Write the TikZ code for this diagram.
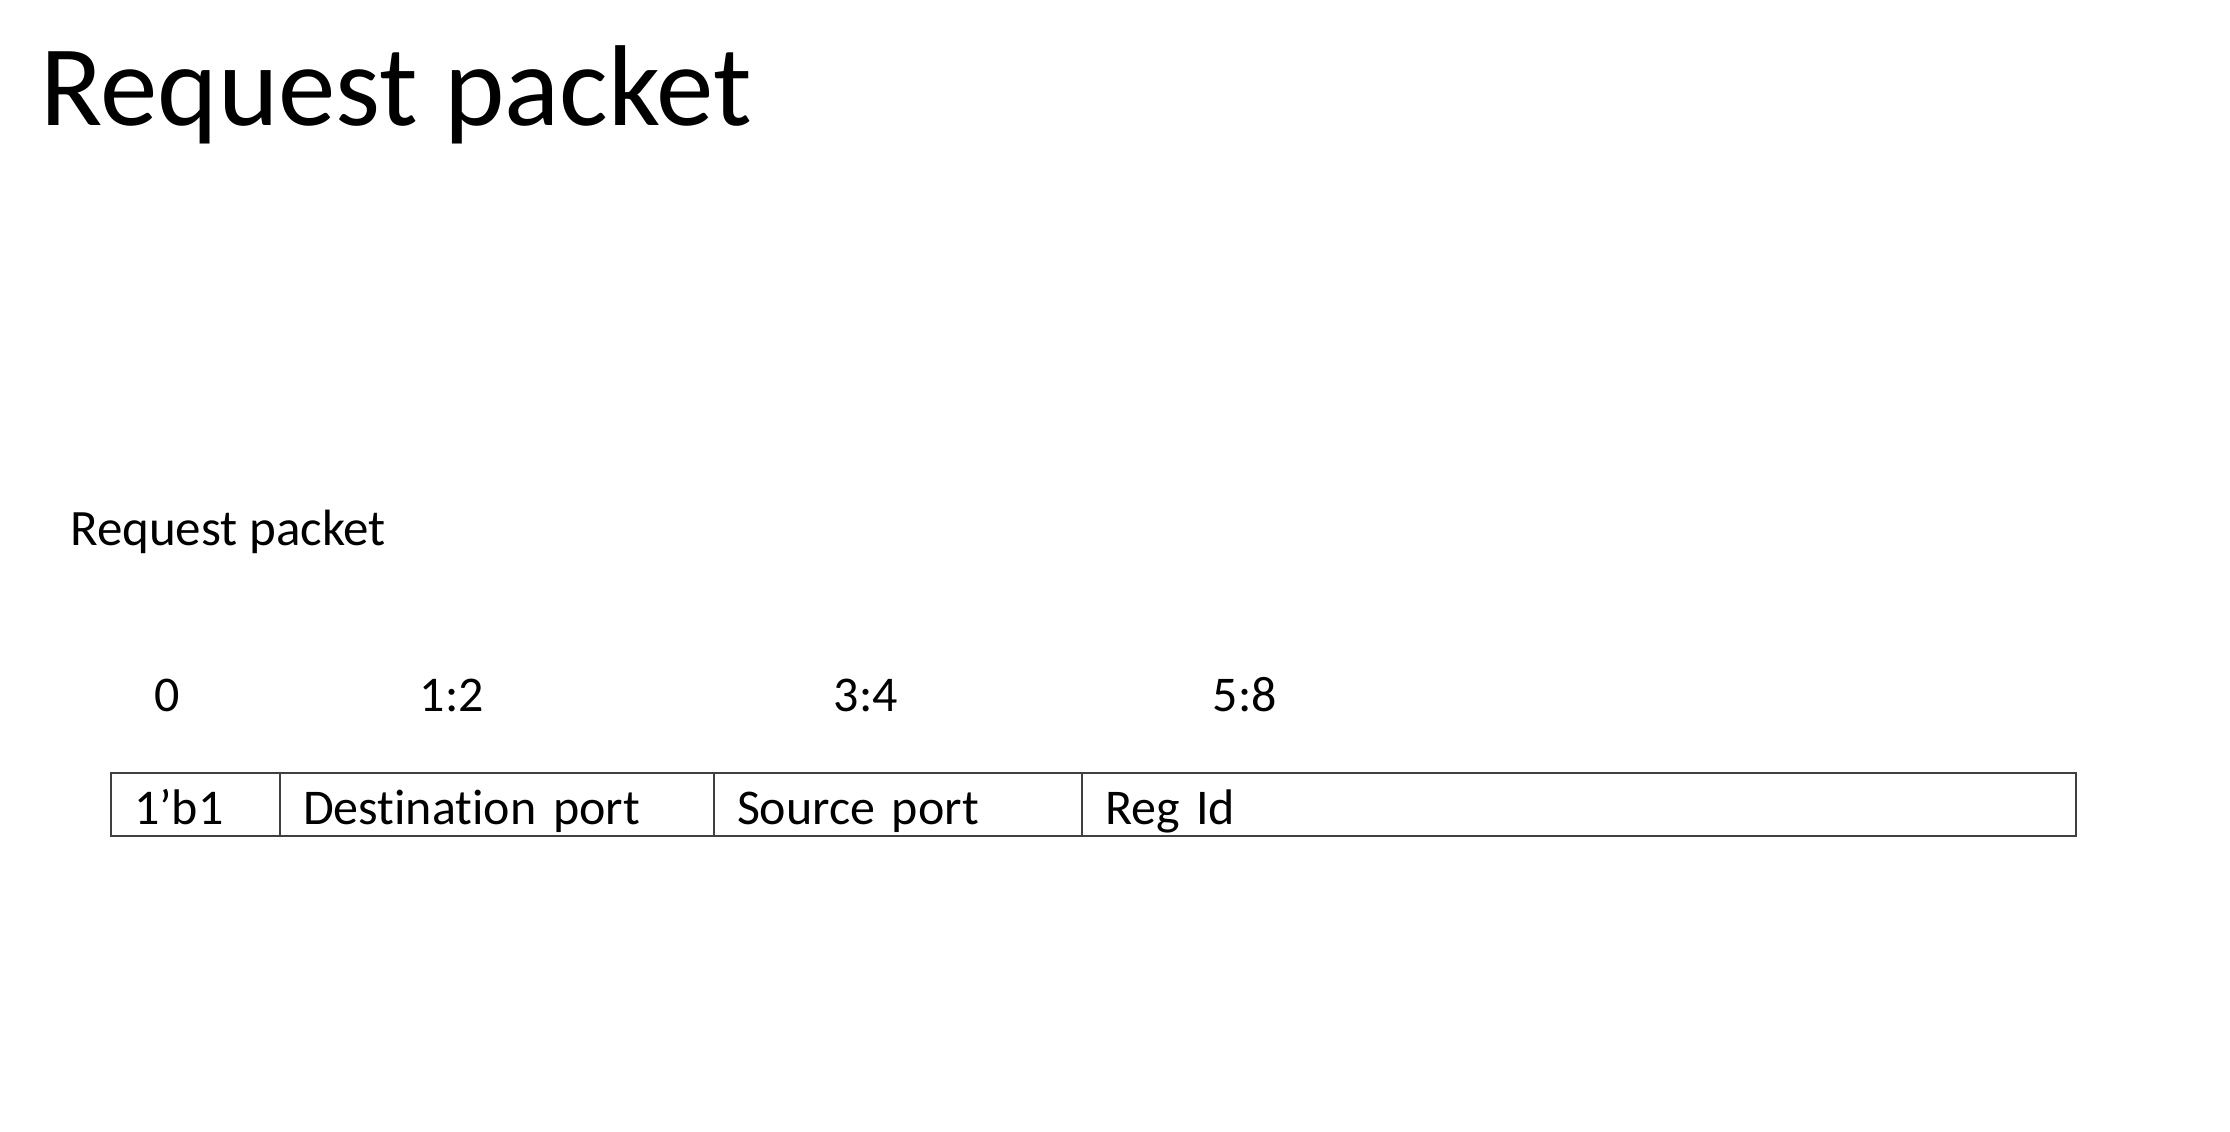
\documentclass[tikz,border=0pt]{standalone}
\usepackage{fontspec}
\setmainfont{Carlito}[Ligatures=NoCommon]
\usetikzlibrary{positioning}

\begin{document}
\begin{tikzpicture}[%
    x=1pt, y=-1pt,              % one unit is one pixel of the slide
    node distance=0pt,          % packet fields sit flush
    every node/.style={inner sep=0pt, font=\fontsize{50}{60}\selectfont}]
% -------------------------------------------------
% A few styles for the slide
\tikzset{
  title/.style={anchor=base west, font=\fontsize{115}{138}\selectfont},
  caption/.style={anchor=base west, font=\fontsize{51}{61}\selectfont},
  bitno/.style={anchor=base},
  % field boxes: #1 is the room left for text
  field/.style={draw=black!75, line width=2pt, anchor=west, outer sep=0pt,
    inner xsep=23pt, inner ysep=0pt, minimum height=63pt,
    text width=#1, align=left, text height=45pt, text depth=6pt}
}
\useasboundingbox (0,0) rectangle (2230,1132);

% -------------------------------------------------
% Headings
\node [title] (head) at (40,125) {Request packet};
\node [caption] (cap) at (70,545) {Request packet};

% -------------------------------------------------
% The packet fields, left to right
\node [field=123pt] (f0) at (111,804.5) {1’b1};
\node [field=388pt, right=of f0] (f1) {Destination port};
\node [field=322pt, right=of f1] (f2) {Source port};
\node [field=948pt, right=of f2] (f3) {Reg Id};

% -------------------------------------------------
% Bit positions above the fields
\node [bitno] (b0)  at (167,711)  {0};
\node [bitno] (b12) at (452,711)  {1:2};
\node [bitno] (b34) at (866,711)  {3:4};
\node [bitno] (b58) at (1245,711) {5:8};
\end{tikzpicture}
\end{document}
